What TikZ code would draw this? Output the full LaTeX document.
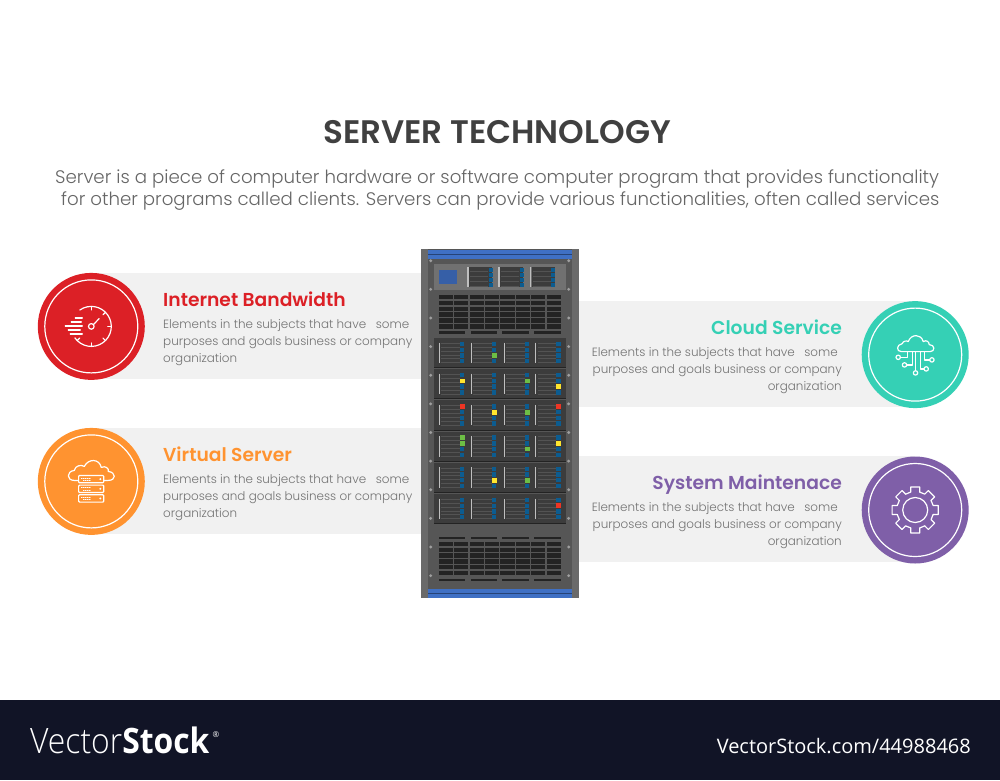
\documentclass[tikz,border=0pt]{standalone}
\usepackage{fontspec}
\setmainfont{Poppins}
\newfontfamily\headfont{Poppins SemiBold}
\newfontfamily\bodyfont{Poppins Light}
\newfontfamily\markfont{Open Sans}
\newfontfamily\marklight{Open Sans Light}
\usetikzlibrary{positioning}

\definecolor{redc}{HTML}{DC2026}
\definecolor{orangec}{HTML}{FF9330}
\definecolor{tealc}{HTML}{35D0B5}
\definecolor{purplec}{HTML}{7F5FA8}
\definecolor{bandc}{HTML}{F1F1F1}
\definecolor{footc}{HTML}{111426}
\definecolor{rackouter}{HTML}{6A6A6A}
\definecolor{rackinner}{HTML}{565656}
\definecolor{rackunit}{HTML}{3C3C3C}
\definecolor{rackcell}{HTML}{232323}
\definecolor{rackblue}{HTML}{3F70C4}
\definecolor{ledblue}{HTML}{0C5C90}
\definecolor{ledgreen}{HTML}{6DBE45}
\definecolor{ledyellow}{HTML}{FFE52E}
\definecolor{ledred}{HTML}{EE3524}

\begin{document}
\begin{tikzpicture}[
  x=1pt, y=-1pt,
  band/.style={fill=bandc, draw=none},
  badge/.style={circle, fill=#1, draw=none, minimum size=107pt, inner sep=0pt},
  ring/.style={circle, draw=white, line width=1.2pt, minimum size=93pt, inner sep=0pt},
  icon/.style={draw=white, line width=1.2pt, line join=round, line cap=round},
  headtext/.style={font=\headfont\fontsize{18.7}{22}\selectfont, text=#1, inner sep=0pt},
  bodytext/.style={font=\bodyfont\fontsize{11.95}{17}\selectfont, text=black!55, inner sep=0pt},
  cell/.style={fill=rackcell, draw=none},
  slot/.style={fill=rackcell, draw=none},
  handle/.style={draw=gray!50!white, line width=1.3pt},
  slat/.style={draw=rackunit!88!white, line width=0.35pt},
]
  \useasboundingbox (0,0) rectangle (1000,780);
  \fill[white] (0,0) rectangle (1000,780);

  % Title and intro
  \node[font=\headfont\fontsize{32.6}{38}\selectfont, text=black!75, inner sep=0pt] (title) at (497,132) {SERVER TECHNOLOGY};
  \node[font=\bodyfont\fontsize{18.2}{22}\selectfont, text=black!60, align=left, anchor=west, inner sep=0pt] (intro) at (55,190)
    {Server is a piece of computer hardware or software computer program that provides functionality\\
     \hspace*{6pt}for other programs called clients. Servers can provide various functionalities, often called services};

  % Bands behind the rack
  \fill[band] (91,273) rectangle (421,379);
  \fill[band] (91,428) rectangle (421,534);
  \fill[band] (579,301) rectangle (915,407);
  \fill[band] (579,456) rectangle (915,562);

  % Rack body
  \fill[rackouter] (421,249) rectangle (579,598);
  \fill[rackinner] (428,249) rectangle (572,598);
  \fill[rackblue] (428,250) rectangle (572,259);
  \fill[rackblue!60!black] (428,253.5) rectangle (572,254.5);
  \fill[rackblue] (428,589) rectangle (572,598);
  \fill[rackblue!60!black] (428,593) rectangle (572,594);

  % Rack screws
  \foreach \k in {0,...,11} {
    \fill[gray!75] (430.7,260.7+28.63*\k) circle (1.6);
    \fill[gray!75] (568.7,260.7+28.63*\k) circle (1.6);
  }

  % Top unit
  \fill[rackouter!95!white] (434,264) rectangle (566,290);
  \fill[rackblue!85!black] (438.7,269.7) rectangle (457,283.7);
  \foreach \xa in {468,499,530.5} {
    \fill[rackunit] (\xa+1,267) rectangle (\xa+24,287);
    \draw[handle] (\xa,267) -- (\xa,287);
    \foreach \k in {0,1,2,3} {
      \draw[slat] (\xa+2,271.5+5*\k) -- (\xa+20,271.5+5*\k);
      \fill[ledblue] (\xa+20.5,267.5+5*\k) rectangle (\xa+24.5,271.5+5*\k);
    }
  }

  % Upper vent
  \foreach \i in {0,...,7} {
    \foreach \j in {0,...,5} {
      \fill[cell] (438.7+15.4*\i,295+5.83*\j) rectangle ++(14.2,4.4);
    }
  }
  \foreach \i in {0,1,2,3} {
    \fill[slot] (438.7+31.8*\i,331.3) rectangle ++(26.5,2.7);
  }

  % Six server units
  \foreach \u in {0,...,5} {
    \pgfmathsetmacro{\yu}{338+31.2*\u}
    \fill[rackunit] (434,\yu) rectangle (566,\yu+30);
    \fill[rackcell] (434,\yu+29.2) rectangle (566,\yu+30.2);
    \foreach \xa/\xb in {439.3/462,471.3/494,504.3/527,535.7/558.3} {
      \foreach \k in {0,...,5} {
        \draw[slat] (\xa+2,\yu+5+3.9*\k) -- (\xb-2,\yu+5+3.9*\k);
      }
      \draw[handle] (\xa,\yu+4.5) -- (\xa,\yu+25);
      \foreach \k in {0,1,2,3} {
        \fill[ledblue] (\xb-2.3,\yu+3.8+5.7*\k) rectangle ++(4.6,4.4);
      }
    }
  }

  % Lit lamps
  \foreach \u/\xb/\k/\c in {
    0/494/2/ledgreen,
    1/462/1/ledyellow, 1/527/1/ledgreen, 1/558.3/2/ledyellow,
    2/462/0/ledred, 2/494/1/ledyellow, 2/527/1/ledgreen, 2/558.3/0/ledred,
    3/462/0/ledgreen, 3/462/1/ledgreen, 3/527/2/ledgreen, 3/558.3/1/ledyellow,
    4/494/2/ledyellow, 4/527/2/ledgreen,
    5/558.3/1/ledred} {
    \fill[\c] (\xb-2.5,338+31.2*\u+3.6+5.7*\k) rectangle ++(5,4.8);
  }

  % Lower vent
  \foreach \i in {0,1,2,3} {
    \fill[slot] (438.7+31.8*\i,537) rectangle ++(26.5,2.4);
    \fill[slot] (438.7+31.8*\i,578.7) rectangle ++(26.5,2.4);
  }
  \foreach \i in {0,...,7} {
    \foreach \j in {0,...,5} {
      \fill[cell] (438.7+15.4*\i,541.7+5.83*\j) rectangle ++(14.2,4.4);
    }
  }

  % Badges
  \node[badge=redc] (bandwidth) at (91.3,326.4) {};
  \node[ring] (bandwidthring) at (bandwidth) {};
  \node[badge=orangec] (virtual) at (91.3,481.4) {};
  \node[ring] (virtualring) at (virtual) {};
  \node[badge=tealc] (cloud) at (915.2,354.6) {};
  \node[ring] (cloudring) at (cloud) {};
  \node[badge=purplec] (maintenance) at (915.2,510) {};
  \node[ring] (maintenancering) at (maintenance) {};

  % Icon: gauge
  \begin{scope}[shift={(bandwidth)}, y=1pt, icon]
    \draw (125:20) arc[start angle=125, end angle=-145, radius=20];
    \foreach \a in {90,45,0,-45,-90,-135} { \draw (\a:20) -- (\a:16.5); }
    \draw (0,0) circle (2.8);
    \draw (40:3) -- (45:11);
    \foreach \yy/\xa/\xb in {8.5/-16/-9, 4.5/-20/-10, 0.5/-26/-9, -3.5/-23/-11, -7.5/-21/-9} {
      \draw (\xa,\yy) -- (\xb,\yy);
    }
  \end{scope}

  % Icon: cloud with servers
  \begin{scope}[shift={(virtual)}, y=1pt, icon]
    \draw (-13,1) -- (-17,1) .. controls (-25,1) and (-25,10) .. (-17,11)
      .. controls (-16,16) and (-10,17) .. (-7,15)
      .. controls (-3,23) and (8,23) .. (10,14)
      .. controls (14,16) and (18,13) .. (17,10)
      .. controls (25,9) and (25,1) .. (17,1) -- (13,1);
    \foreach \yt in {6,-3.7,-13.3} {
      \draw[rounded corners=1pt] (-12.7,\yt) rectangle (12.5,\yt-7.4);
      \draw[line width=0.6pt, dash pattern=on 1pt off 1pt] (-10,\yt-2.4) -- (-1,\yt-2.4);
      \draw[line width=0.6pt, dash pattern=on 1pt off 1pt] (-8,\yt-4.9) -- (0,\yt-4.9);
      \fill[white] (9,\yt-3.7) circle (1.1);
    }
  \end{scope}

  % Icon: cloud with circuit
  \begin{scope}[shift={(cloud)}, y=1pt, icon]
    \draw (-14,3) .. controls (-19,3) and (-19,10) .. (-13,11)
      .. controls (-12,14) and (-8,14) .. (-7,13)
      .. controls (-4,21) and (6,21) .. (8,13)
      .. controls (11,15) and (14,13) .. (14,10)
      .. controls (20,10) and (20,3) .. (15,3) -- cycle;
    \draw (-8,3) -- (-8,-2.7) -- (-14.8,-2.7);
    \draw (-17,-2.7) circle (2.2);
    \draw (-3,3) -- (-3,-10.3) -- (-8.5,-10.3);
    \draw (-10.7,-10.3) circle (2.2);
    \draw (0.3,3) -- (0.3,-16);
    \draw (0.3,-18.3) circle (2.2);
    \draw (5,3) -- (5,-14.3) -- (8.8,-14.3);
    \draw (11,-14.3) circle (2.2);
    \draw (9,3) -- (9,-5.3) -- (14.5,-5.3);
    \draw (16.7,-5.3) circle (2.2);
  \end{scope}

  % Icon: gear
  \begin{scope}[shift={(maintenance)}, y=1pt, icon]
    \foreach \a in {0,45,...,315} {
      \draw (\a-14:18.5) -- (\a-11:23.5) -- (\a+11:23.5) -- (\a+14:18.5)
        arc[start angle=\a+14, end angle=\a+31, radius=18.5];
    }
    \draw (0,0) circle (12.5);
  \end{scope}

  % Left texts
  \node[headtext=redc, anchor=base west] (bandwidthhead) at (163,306) {Internet Bandwidth};
  \node[bodytext, align=left, anchor=west] (bandwidthbody) at (163,342.8)
    {Elements in the subjects that have\ \ \hspace*{3pt}some\\purposes and goals business or company\\organization};
  \node[headtext=orangec, anchor=base west] (virtualhead) at (163,461) {Virtual Server};
  \node[bodytext, align=left, anchor=west] (virtualbody) at (163,497.8)
    {Elements in the subjects that have\ \ \hspace*{3pt}some\\purposes and goals business or company\\organization};

  % Right texts
  \node[headtext=tealc, anchor=base east] (cloudhead) at (842,334) {Cloud Service};
  \node[bodytext, align=right, anchor=east] (cloudbody) at (842,370.8)
    {Elements in the subjects that have\ \ \hspace*{3pt}some\hspace*{4pt}\\purposes and goals business or company\hspace*{3pt}\\organization};
  \node[headtext=purplec, anchor=base east] (maintenancehead) at (842,489) {System Maintenace};
  \node[bodytext, align=right, anchor=east] (maintenancebody) at (842,525.8)
    {Elements in the subjects that have\ \ \hspace*{3pt}some\hspace*{4pt}\\purposes and goals business or company\hspace*{3pt}\\organization};

  % Footer strip
  \fill[footc] (0,700) rectangle (1000,780);
  \node[text=white, anchor=base west, inner sep=0pt, font=\fontsize{35}{40}\selectfont, xscale=0.91, transform shape] (logo) at (30,753)
    {\marklight Vector\markfont\bfseries Stock};
  \node[text=white, anchor=base, inner sep=0pt, font=\markfont\fontsize{8}{10}\selectfont] (logomark) at (216,737) {\textregistered};
  \node[text=white, anchor=base east, inner sep=0pt, font=\markfont\fontsize{20}{24}\selectfont] (stockid) at (971,753)
    {VectorStock.com/44988468};
\end{tikzpicture}
\end{document}
